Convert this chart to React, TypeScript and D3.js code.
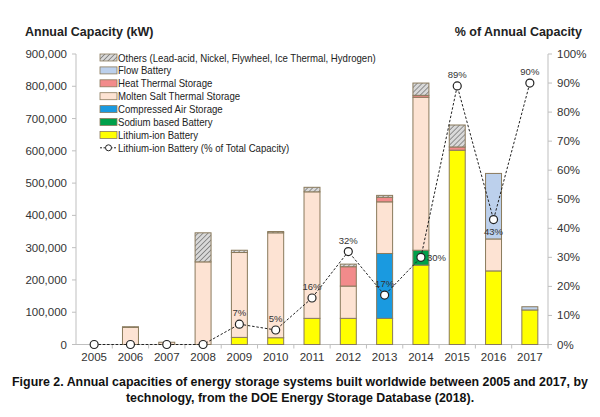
import React from "react";
import * as d3 from "d3";

const years = ["2005","2006","2007","2008","2009","2010","2011","2012","2013","2014","2015","2016","2017"];
const liIon =      [0, 0, 0, 0, 22000, 21000, 81000, 81000, 81000, 246000, 602000, 228000, 107000];
const sodium =     [0, 0, 0, 0, 0, 0, 0, 0, 0, 46000, 0, 0, 0];
const compressed = [0, 0, 0, 0, 0, 0, 0, 0, 201000, 0, 0, 0, 0];
const molten =     [0, 53000, 7000, 256000, 263000, 325000, 392000, 100000, 160000, 474000, 0, 99000, 0];
const heat =       [0, 0, 0, 0, 0, 0, 0, 60000, 14000, 6000, 10000, 0, 0];
const flow =       [0, 0, 0, 0, 0, 0, 0, 0, 0, 0, 0, 203000, 10000];
const others =     [0, 2000, 0, 90000, 7000, 4000, 14000, 8000, 6000, 38000, 68000, 0, 0];
const liPct =      [0, 0, 0, 0, 7, 5, 16, 32, 17, 30, 89, 43, 90];
const pctLabelSide = ["", "", "", "", "above", "above", "above", "above", "above", "right", "above", "below", "above"];

const leftTicks = [0, 100000, 200000, 300000, 400000, 500000, 600000, 700000, 800000, 900000];
const rightTicks = [0, 10, 20, 30, 40, 50, 60, 70, 80, 90, 100];

const seriesNames = ["Lithium-ion Battery", "Sodium based Battery", "Compressed Air Storage", "Molten Salt Thermal Storage", "Heat Thermal Storage", "Flow Battery", "Others (Lead-acid, Nickel, Flywheel, Ice Thermal, Hydrogen)"];
const seriesValues = [liIon, sodium, compressed, molten, heat, flow, others];
const seriesColors = ["#ffff00", "#00a04a", "#1a9ae0", "#fde3d3", "#f28b8b", "#bcd0ec", "url(#hatch)"];

const FONT = "Liberation Sans, Arial, Helvetica, sans-serif";

export default function App() {
  const W = 600, H = 417;
  const x0 = 76, x1 = 548, yTop = 54, yBot = 344.5;
  const x = d3.scaleBand<string>().domain(years).range([x0, x1]).paddingInner(0.56).paddingOuter(0.28);
  const y = d3.scaleLinear().domain([0, 900000]).range([yBot, yTop]);
  const yp = d3.scaleLinear().domain([0, 100]).range([yBot, yTop]);
  const step = (x1 - x0) / years.length;
  const cx = (yr: string) => (x(yr) as number) + x.bandwidth() / 2;

  const table = years.map((yr, i) => {
    const row: any = { year: yr };
    seriesNames.forEach((n, k) => (row[n] = seriesValues[k][i]));
    return row;
  });
  const stacked = d3.stack<any>().keys(seriesNames)(table);

  const line = d3.line<number>().x((_, i) => cx(years[i])).y((d) => yp(d));
  const fmt = d3.format(",");

  const legendOrder = [6, 5, 4, 3, 2, 1, 0];
  const lgX = 100, lgY0 = 57.5, lgDy = 12.9;
  const lgTextX = lgX + 18;

  return (
    <svg width={W} height={H} style={{ position: "absolute", left: 0, top: 0, background: "#fff" }} fontFamily={FONT}>
      <defs>
        <pattern id="hatch" patternUnits="userSpaceOnUse" width="3.5" height="3.5" patternTransform="rotate(45)">
          <rect width="3.5" height="3.5" fill="#d9d9d9" />
          <line x1="0" y1="0" x2="0" y2="3.5" stroke="#6e6e6e" strokeWidth="1.4" />
        </pattern>
      </defs>
      <rect width={W} height={H} fill="#fff" />

      {/* axis titles */}
      <text x={25} y={36} fontSize={12.5} fontWeight="bold" fill="#222">Annual Capacity (kW)</text>
      <text x={582} y={36} fontSize={12.5} fontWeight="bold" fill="#222" textAnchor="end">% of Annual Capacity</text>

      {/* left axis */}
      <line x1={x0} x2={x0} y1={yTop} y2={yBot} stroke="#bfbfbf" />
      {leftTicks.map((t) => (
        <g key={t}>
          <line x1={x0 - 4} x2={x0} y1={y(t)} y2={y(t)} stroke="#bfbfbf" />
          <text x={67} y={y(t) + 4} fontSize={11.5} textAnchor="end" fill="#333">{fmt(t)}</text>
        </g>
      ))}
      {/* right axis */}
      <line x1={x1} x2={x1} y1={yTop} y2={yBot} stroke="#bfbfbf" />
      {rightTicks.map((t) => (
        <g key={t}>
          <line x1={x1} x2={x1 + 4} y1={yp(t)} y2={yp(t)} stroke="#bfbfbf" />
          <text x={557} y={yp(t) + 4} fontSize={11.5} fill="#333">{t + "%"}</text>
        </g>
      ))}
      {/* x axis */}
      <line x1={x0} x2={x1} y1={yBot} y2={yBot} stroke="#bfbfbf" />
      {years.map((yr, i) => (
        <g key={yr}>
          <line x1={x0 + step * (i + 1)} x2={x0 + step * (i + 1)} y1={yBot} y2={yBot + 4} stroke="#bfbfbf" />
          <text x={cx(yr)} y={361} fontSize={11.5} textAnchor="middle" fill="#333">{yr}</text>
        </g>
      ))}

      {/* bars */}
      {stacked.map((s, k) => (
        <g key={s.key}>
          {s.map((d, i) =>
            d[1] - d[0] > 0 ? (
              <rect key={i} x={x(years[i])} width={x.bandwidth()} y={y(d[1])} height={y(d[0]) - y(d[1])}
                fill={seriesColors[k]} stroke="#8a7a5c" strokeWidth={1} />
            ) : null
          )}
        </g>
      ))}

      {/* percent line */}
      <path d={line(liPct) || ""} fill="none" stroke="#222" strokeWidth={1} strokeDasharray="2.5,1.8" />
      {liPct.map((p, i) => (
        <circle key={i} cx={cx(years[i])} cy={yp(p)} r={4} fill="#fff" stroke="#222" strokeWidth={1.2} />
      ))}
      {liPct.map((p, i) => {
        const side = pctLabelSide[i];
        if (!side) return null;
        const px = cx(years[i]), py = yp(p);
        const lx = side === "right" ? px + 6 : px;
        const ly = side === "above" ? py - 8 : side === "below" ? py + 15 : py + 3.5;
        return (
          <text key={i} x={lx} y={ly} fontSize={9.5} fill="#333" textAnchor={side === "right" ? "start" : "middle"}>{p + "%"}</text>
        );
      })}

      {/* legend */}
      {legendOrder.map((k, j) => (
        <g key={k}>
          <rect x={lgX} y={lgY0 + j * lgDy - 3.5} width={17} height={7} fill={seriesColors[k]} stroke="#8a7a5c" strokeWidth={0.8} />
          <g transform={`translate(${lgTextX},${lgY0 + j * lgDy + 4}) scale(0.89,1)`}>
            <text x={0} y={0} fontSize={10.8} fill="#222">{seriesNames[k]}</text>
          </g>
        </g>
      ))}
      <g>
        <line x1={lgX} x2={lgX + 17} y1={lgY0 + 7 * lgDy} y2={lgY0 + 7 * lgDy} stroke="#222" strokeDasharray="2,1.5" />
        <circle cx={lgX + 8.5} cy={lgY0 + 7 * lgDy} r={3} fill="#fff" stroke="#222" />
        <g transform={`translate(${lgTextX},${lgY0 + 7 * lgDy + 4}) scale(0.89,1)`}>
          <text x={0} y={0} fontSize={10.8} fill="#222">Lithium-ion Battery (% of Total Capacity)</text>
        </g>
      </g>

      {/* caption */}
      <text x={300} y={386} fontSize={12.4} fontWeight="bold" textAnchor="middle" fill="#111">Figure 2. Annual capacities of energy storage systems built worldwide between 2005 and 2017, by</text>
      <text x={300} y={402} fontSize={12.4} fontWeight="bold" textAnchor="middle" fill="#111">technology, from the DOE Energy Storage Database (2018).</text>
    </svg>
  );
}
